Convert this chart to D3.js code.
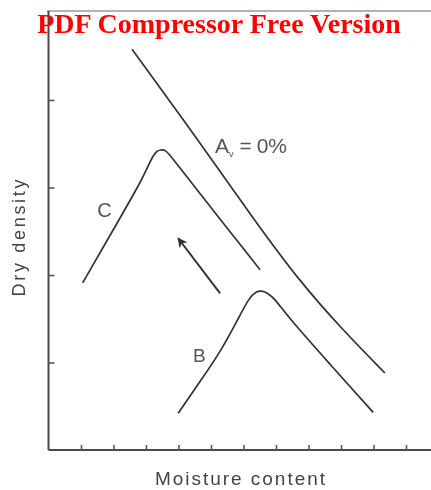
<!DOCTYPE html>
<html>
<head>
<meta charset="utf-8">
<script src="https://cdn.jsdelivr.net/npm/d3@7"></script>
<style>
  html, body { margin: 0; padding: 0; background: #fff; }
  svg { display: block; }
</style>
</head>
<body>
<script>
// Compaction curves: dry density vs. moisture content (axis units are relative)
const xTicks = [1, 2, 3, 4, 5, 6, 7, 8, 9, 10, 11];
const yTicks = [1, 2, 3, 4];

// Zero-air-voids line (Av = 0%)
const zavMoisture = [2.57, 4.82, 6.29, 7.74, 9.06, 10.35];
const zavDensity  = [4.58, 3.43, 2.65, 1.92, 1.37, 0.88];

// Curve C (higher compactive effort)
const cMoisture = [1.05, 2.20, 2.91, 3.15, 3.32, 3.45, 3.60, 3.76, 4.66, 6.51];
const cDensity  = [1.91, 2.65, 3.11, 3.32, 3.42, 3.43, 3.43, 3.36, 2.93, 2.06];

// Curve B (lower compactive effort)
const bMoisture = [3.99, 4.66, 5.34, 5.89, 6.18, 6.38, 6.55, 6.72, 6.96, 7.37, 8.66, 9.99];
const bDensity  = [0.42, 0.78, 1.15, 1.54, 1.74, 1.81, 1.82, 1.80, 1.73, 1.52, 0.98, 0.43];

// Arrow showing the shift of the optimum with increasing effort
const arrowMoisture = [5.28, 3.99];
const arrowDensity  = [1.79, 2.42];

const W = 431, H = 490;
const svg = d3.select("body").append("svg").attr("width", W).attr("height", H);

const defs = svg.append("defs");
defs.append("filter").attr("id", "soft")
  .append("feGaussianBlur").attr("stdDeviation", 0.45);
defs.append("marker")
  .attr("id", "head").attr("viewBox", "0 0 10 10")
  .attr("refX", 9).attr("refY", 5)
  .attr("markerWidth", 18).attr("markerHeight", 10)
  .attr("markerUnits", "userSpaceOnUse")
  .attr("orient", "auto")
  .append("path").attr("d", "M0,0 L10,5 L0,10 L3,5 Z").attr("fill", "#2e2e2e");

const x = d3.scaleLinear().domain([0, 12]).range([48.5, 438.5]);
const y = d3.scaleLinear().domain([0, 5]).range([450, 12.5]);

const g = svg.append("g").attr("filter", "url(#soft)");

// frame: top edge, left axis, bottom axis
g.append("line").attr("x1", 47).attr("x2", W).attr("y1", 11).attr("y2", 11)
  .attr("stroke", "#9a9a9a").attr("stroke-width", 1.5);

const xAxis = d3.axisBottom(x).tickValues(xTicks).tickSize(-5).tickFormat("");
const yAxis = d3.axisLeft(y).tickValues(yTicks).tickSize(-6).tickFormat("");

const gx = g.append("g").attr("transform", `translate(0,${y(0)})`).call(xAxis);
gx.select(".domain").attr("d", `M${x(0)},0H${W}`);
const gy = g.append("g").attr("transform", `translate(${x(0)},0)`).call(yAxis);
gy.select(".domain").attr("d", `M0,11V${y(0)}`);
[gx, gy].forEach(a => {
  a.select(".domain").attr("stroke", "#4a4a4a").attr("stroke-width", 2);
  a.selectAll(".tick line").attr("stroke", "#555").attr("stroke-width", 1.6);
});

const line = d3.line()
  .x(d => x(d[0])).y(d => y(d[1]))
  .curve(d3.curveBasis);

const series = [
  [zavMoisture, zavDensity],
  [cMoisture, cDensity],
  [bMoisture, bDensity]
];
series.forEach(([mx, dy]) => {
  g.append("path")
    .datum(d3.zip(mx, dy))
    .attr("d", line)
    .attr("fill", "none")
    .attr("stroke", "#333")
    .attr("stroke-width", 1.7);
});

g.append("line")
  .attr("x1", x(arrowMoisture[0])).attr("y1", y(arrowDensity[0]))
  .attr("x2", x(arrowMoisture[1])).attr("y2", y(arrowDensity[1]))
  .attr("stroke", "#333").attr("stroke-width", 2)
  .attr("marker-end", "url(#head)");

// curve labels
const lbl = g.append("g").attr("font-family", "Liberation Sans, Arial, sans-serif")
  .attr("fill", "#555");
lbl.append("text").attr("x", x(1.72)).attr("y", y(2.66)).attr("font-size", 20)
  .attr("text-anchor", "middle").text("C");
lbl.append("text").attr("x", x(4.64)).attr("y", y(1.01)).attr("font-size", 19)
  .attr("text-anchor", "middle").text("B");

const av = lbl.append("text").attr("x", x(5.12)).attr("y", y(3.40)).attr("font-size", 21);
av.append("tspan").text("A");
av.append("tspan").attr("font-size", 9).attr("dy", 4).text("v");
av.append("tspan").attr("dy", -4).attr("dx", 6).text("=");
av.append("tspan").attr("dx", 5).text("0%");

// axis titles
g.append("text")
  .attr("x", 240).attr("y", 485)
  .attr("text-anchor", "middle")
  .attr("font-family", "Liberation Sans, Arial, sans-serif")
  .attr("font-size", 19).attr("fill", "#444")
  .attr("textLength", 170).attr("lengthAdjust", "spacing")
  .text("Moisture content");

g.append("text")
  .attr("transform", "translate(25,238) rotate(-90)")
  .attr("text-anchor", "middle")
  .attr("font-family", "Liberation Sans, Arial, sans-serif")
  .attr("font-size", 18).attr("fill", "#444")
  .attr("textLength", 117).attr("lengthAdjust", "spacing")
  .text("Dry density");

// header
svg.append("text")
  .attr("x", 219).attr("y", 33)
  .attr("text-anchor", "middle")
  .attr("font-family", "Liberation Serif, Times New Roman, serif")
  .attr("font-weight", "bold")
  .attr("font-size", 28)
  .attr("fill", "#ff0000")
  .text("PDF Compressor Free Version");
</script>
</body>
</html>
